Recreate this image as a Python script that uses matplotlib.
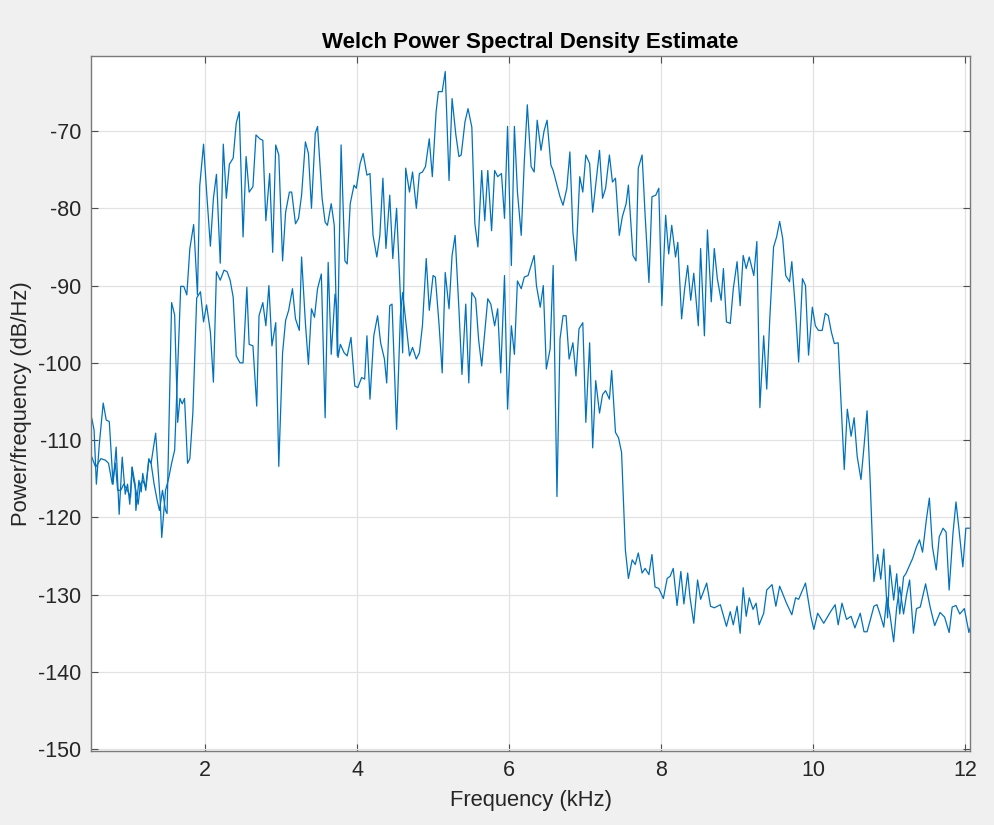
import matplotlib
matplotlib.use("Agg")
import matplotlib.pyplot as plt

# upper trace (frequency in kHz, PSD in dB/Hz)
freq_a = [0.51, 0.54, 0.57, 0.61, 0.66, 0.70, 0.74, 0.79, 0.83, 0.87, 0.91, 0.95, 0.98, 1.01, 1.04,
          1.08, 1.09, 1.13, 1.16, 1.18, 1.22, 1.26, 1.29, 1.35, 1.38, 1.41, 1.43, 1.48, 1.52, 1.56,
          1.60, 1.68, 1.72, 1.76, 1.80, 1.85, 1.87, 1.90, 1.93, 1.98, 2.02, 2.07, 2.11, 2.15, 2.20,
          2.24, 2.28, 2.32, 2.37, 2.41, 2.45, 2.50, 2.54, 2.58, 2.63, 2.67, 2.72, 2.76, 2.80, 2.85,
          2.89, 2.93, 2.97, 3.02, 3.06, 3.11, 3.14, 3.19, 3.23, 3.27, 3.32, 3.36, 3.40, 3.45, 3.48,
          3.54, 3.58, 3.61, 3.66, 3.70, 3.74, 3.79, 3.84, 3.87, 3.91, 3.96, 3.99, 4.04, 4.08, 4.13,
          4.17, 4.21, 4.26, 4.30, 4.34, 4.38, 4.43, 4.47, 4.52, 4.56, 4.60, 4.64, 4.69, 4.73, 4.78,
          4.82, 4.86, 4.90, 4.95, 4.99, 5.04, 5.07, 5.12, 5.16, 5.21, 5.25, 5.30, 5.34, 5.37, 5.42,
          5.46, 5.51, 5.55, 5.59, 5.64, 5.68, 5.72, 5.77, 5.81, 5.85, 5.90, 5.94, 5.98, 6.03, 6.07,
          6.11, 6.16, 6.20, 6.24, 6.29, 6.33, 6.37, 6.42, 6.46, 6.50, 6.55, 6.58, 6.63, 6.67, 6.71,
          6.76, 6.80, 6.84, 6.88, 6.93, 6.97, 7.01, 7.06, 7.10, 7.15, 7.19, 7.23, 7.27, 7.32, 7.36,
          7.40, 7.45, 7.49, 7.54, 7.57, 7.63, 7.67, 7.70, 7.75, 7.79, 7.84, 7.88, 7.93, 7.97, 8.01,
          8.06, 8.10, 8.14, 8.19, 8.22, 8.27, 8.31, 8.35, 8.39, 8.43, 8.49, 8.52, 8.57, 8.61, 8.66,
          8.70, 8.74, 8.79, 8.82, 8.86, 8.91, 8.95, 9.00, 9.04, 9.08, 9.12, 9.16, 9.22, 9.26, 9.30,
          9.35, 9.39, 9.43, 9.48, 9.52, 9.56, 9.60, 9.64, 9.69, 9.72, 9.77, 9.81, 9.86, 9.90, 9.94,
          9.99, 10.03, 10.07, 10.12, 10.16, 10.20, 10.24, 10.28, 10.33, 10.41, 10.45, 10.50, 10.54,
          10.58, 10.63, 10.67, 10.71, 10.75, 10.80, 10.85, 10.89, 10.93, 10.98, 11.01, 11.06, 11.10,
          11.14, 11.19, 11.22, 11.27, 11.31, 11.36, 11.40, 11.44, 11.49, 11.53, 11.57, 11.62, 11.66,
          11.71, 11.75, 11.79, 11.84, 11.88, 11.92, 11.97, 12.01, 12.06]
psd_a = [-107.2, -108.7, -115.7, -110.4, -105.2, -107.4, -107.6, -115.7, -110.9, -119.6, -112.2, -117.0,
         -115.7, -118.3, -113.5, -115.7, -119.1, -115.2, -116.7, -114.3, -116.5, -112.4, -113.0, -109.1,
         -113.5, -117.8, -122.6, -116.5, -115.0, -113.0, -111.3, -90.1, -90.1, -91.2, -85.2, -82.1,
         -85.6, -91.2, -77.1, -71.7, -77.8, -84.9, -78.7, -75.6, -87.1, -71.7, -78.7, -74.3, -73.5,
         -69.0, -67.5, -83.7, -73.3, -77.9, -77.2, -70.5, -71.0, -71.2, -81.6, -75.5, -85.7, -71.8,
         -73.1, -86.8, -80.5, -77.9, -77.9, -82.0, -81.3, -78.3, -71.4, -72.9, -80.0, -70.3, -69.4,
         -78.7, -81.8, -82.2, -79.4, -82.2, -99.1, -71.8, -86.8, -87.2, -79.4, -77.0, -77.4, -74.2,
         -72.9, -75.7, -75.5, -83.5, -86.3, -83.5, -76.1, -85.2, -78.3, -86.5, -80.0, -89.0, -98.7,
         -74.8, -77.9, -75.3, -80.0, -75.5, -75.3, -74.6, -71.0, -75.9, -67.5, -64.9, -64.9, -62.3,
         -76.4, -65.8, -70.5, -73.3, -73.1, -68.8, -67.1, -69.5, -82.0, -85.0, -75.1, -81.6, -75.1,
         -82.9, -75.1, -75.9, -75.5, -81.3, -69.4, -87.4, -69.4, -77.9, -83.5, -74.0, -66.6, -74.6,
         -75.3, -68.6, -72.5, -70.0, -68.6, -74.4, -75.1, -77.0, -78.5, -79.6, -77.4, -72.7, -83.1,
         -86.8, -75.9, -77.9, -73.1, -74.2, -80.5, -76.0, -72.5, -78.7, -77.4, -73.1, -76.6, -76.1,
         -83.5, -81.1, -79.4, -77.0, -86.1, -86.8, -74.8, -73.1, -80.9, -89.6, -78.5, -78.3, -77.4,
         -92.6, -80.9, -85.9, -82.2, -86.3, -84.4, -94.3, -90.4, -87.4, -91.9, -88.4, -95.2, -85.2,
         -96.5, -82.8, -92.1, -85.2, -89.1, -91.9, -87.8, -94.7, -94.9, -90.4, -86.9, -92.6, -86.1,
         -87.8, -86.3, -88.7, -84.3, -105.8, -96.5, -103.4, -94.3, -85.0, -83.7, -81.7, -83.9, -88.7,
         -89.5, -86.9, -93.4, -99.9, -89.1, -90.0, -99.0, -92.8, -95.2, -95.8, -95.8, -93.6, -93.9,
         -96.0, -97.5, -97.4, -113.8, -106.0, -109.5, -107.1, -112.1, -115.1, -110.8, -106.2, -115.1,
         -128.3, -124.8, -128.0, -124.1, -133.0, -126.2, -130.7, -127.3, -132.5, -127.7, -127.3,
         -126.2, -125.3, -123.8, -122.9, -124.5, -120.3, -117.5, -123.8, -126.8, -122.5, -121.4,
         -121.9, -129.4, -122.1, -118.0, -121.6, -126.4, -121.4, -121.4]

# lower trace
freq_b = [0.51, 0.56, 0.63, 0.69, 0.73, 0.78, 0.82, 0.85, 0.89, 0.93, 0.98, 1.02, 1.04, 1.06, 1.09,
          1.12, 1.15, 1.18, 1.22, 1.26, 1.29, 1.33, 1.37, 1.40, 1.44, 1.48, 1.50, 1.56, 1.60, 1.64,
          1.67, 1.70, 1.73, 1.77, 1.80, 1.84, 1.89, 1.94, 1.98, 2.02, 2.07, 2.11, 2.15, 2.20, 2.25,
          2.29, 2.33, 2.37, 2.41, 2.46, 2.50, 2.55, 2.58, 2.63, 2.68, 2.71, 2.76, 2.80, 2.84, 2.88,
          2.93, 2.97, 3.02, 3.06, 3.10, 3.15, 3.19, 3.24, 3.27, 3.32, 3.36, 3.40, 3.44, 3.48, 3.53,
          3.58, 3.62, 3.66, 3.71, 3.73, 3.75, 3.78, 3.83, 3.87, 3.92, 3.97, 4.01, 4.06, 4.10, 4.13,
          4.17, 4.22, 4.27, 4.31, 4.36, 4.39, 4.43, 4.46, 4.52, 4.57, 4.60, 4.69, 4.73, 4.78, 4.82,
          4.86, 4.91, 4.95, 5.00, 5.03, 5.08, 5.12, 5.16, 5.21, 5.25, 5.29, 5.34, 5.38, 5.43, 5.47,
          5.51, 5.56, 5.60, 5.64, 5.72, 5.76, 5.81, 5.85, 5.89, 5.94, 5.98, 6.03, 6.07, 6.11, 6.16,
          6.20, 6.25, 6.29, 6.33, 6.36, 6.41, 6.45, 6.49, 6.54, 6.58, 6.63, 6.67, 6.71, 6.75, 6.79,
          6.84, 6.88, 6.92, 6.97, 7.01, 7.06, 7.10, 7.14, 7.19, 7.23, 7.27, 7.32, 7.35, 7.40, 7.44,
          7.48, 7.53, 7.57, 7.62, 7.66, 7.70, 7.75, 7.79, 7.84, 7.88, 7.92, 7.97, 8.03, 8.08, 8.12,
          8.16, 8.21, 8.26, 8.30, 8.35, 8.38, 8.43, 8.48, 8.52, 8.60, 8.65, 8.70, 8.78, 8.86, 8.91,
          8.95, 9.00, 9.04, 9.08, 9.12, 9.16, 9.21, 9.25, 9.29, 9.35, 9.39, 9.46, 9.51, 9.56, 9.65,
          9.72, 9.77, 9.81, 9.90, 9.97, 10.01, 10.06, 10.14, 10.23, 10.29, 10.33, 10.38, 10.44, 10.50,
          10.55, 10.62, 10.67, 10.71, 10.76, 10.80, 10.84, 10.88, 10.93, 10.97, 11.01, 11.06, 11.10,
          11.14, 11.19, 11.23, 11.27, 11.32, 11.36, 11.41, 11.48, 11.54, 11.60, 11.67, 11.73, 11.79,
          11.83, 11.88, 11.93, 11.99, 12.05, 12.07]
psd_b = [-112.2, -113.5, -112.4, -112.6, -113.0, -115.7, -113.0, -116.5, -116.5, -115.7, -116.5, -117.4,
         -113.5, -115.2, -116.5, -118.3, -115.7, -115.2, -116.1, -112.6, -113.0, -115.7, -117.8, -119.1,
         -116.5, -119.1, -119.5, -92.2, -93.8, -107.7, -104.6, -105.3, -104.6, -113.0, -112.4, -106.4,
         -91.6, -90.8, -94.7, -92.5, -96.0, -102.5, -88.2, -89.3, -88.0, -88.2, -89.3, -91.5, -99.1,
         -100.0, -100.0, -90.2, -97.6, -97.8, -105.6, -93.9, -92.2, -95.2, -90.0, -97.8, -94.8, -113.4,
         -98.7, -94.5, -93.2, -90.4, -94.3, -95.8, -86.3, -94.8, -100.2, -93.0, -94.1, -90.4, -88.5,
         -107.1, -87.0, -98.9, -91.1, -92.6, -99.3, -97.6, -98.7, -99.1, -96.7, -103.0, -103.2, -101.9,
         -102.1, -96.5, -104.7, -96.5, -93.9, -97.4, -99.5, -102.6, -92.6, -92.4, -108.6, -93.9, -90.9,
         -99.1, -98.0, -99.5, -98.7, -95.2, -86.5, -93.2, -88.7, -88.9, -95.2, -101.3, -88.3, -93.0,
         -86.1, -83.5, -93.0, -101.5, -92.4, -102.6, -90.9, -91.7, -97.1, -100.4, -91.7, -92.4, -95.2,
         -93.0, -101.3, -88.7, -106.0, -95.2, -98.9, -89.4, -90.4, -88.9, -88.7, -87.4, -86.1, -90.0,
         -92.8, -90.0, -100.8, -98.2, -87.4, -117.3, -96.9, -93.9, -93.9, -99.5, -97.4, -101.7, -95.6,
         -94.8, -107.7, -97.4, -111.0, -102.3, -106.5, -104.1, -103.6, -104.7, -101.0, -109.0, -109.7,
         -111.6, -124.2, -127.9, -125.5, -126.1, -124.6, -127.2, -126.6, -127.4, -124.8, -129.0, -129.2,
         -130.5, -127.9, -127.6, -126.6, -131.4, -127.0, -131.2, -127.2, -130.3, -133.7, -128.1, -130.6,
         -128.5, -131.5, -131.7, -131.3, -134.1, -132.2, -133.9, -131.5, -135.0, -129.1, -132.8, -130.4,
         -131.9, -131.1, -133.9, -132.4, -129.4, -128.7, -131.5, -128.9, -131.1, -132.6, -130.4, -130.6,
         -128.5, -132.8, -134.5, -132.4, -133.7, -132.2, -131.3, -133.9, -131.1, -133.2, -132.8, -134.3,
         -132.4, -134.8, -134.8, -133.0, -131.5, -131.3, -132.5, -134.2, -130.3, -132.5, -136.1, -131.6,
         -129.0, -132.5, -130.0, -128.1, -135.0, -131.8, -131.6, -128.6, -131.6, -134.0, -132.3, -132.9,
         -134.9, -131.6, -131.4, -132.5, -131.8, -134.9, -134.2]

y_ticks = [-150, -140, -130, -120, -110, -100, -90, -80, -70]
x_ticks = [2, 4, 6, 8, 10, 12]

plt.rcParams['font.family'] = ['Liberation Sans', 'DejaVu Sans']
plt.rcParams['axes.unicode_minus'] = False

fig = plt.figure(figsize=(9.95, 8.25), dpi=100, facecolor='#f0f0f0')
ax = fig.add_axes([0.0915, 0.090, 0.8835, 0.842])

line_color = '#0072bd'
ax.plot(freq_a, psd_a, color=line_color, linewidth=0.9)
ax.plot(freq_b, psd_b, color=line_color, linewidth=0.9)

ax.set_xlim(0.5, 12.066)
ax.set_ylim(-150.2, -60.3)
ax.set_xticks(x_ticks)
ax.set_yticks(y_ticks)

ax.grid(True, color='#e2e2e2', linewidth=0.9)
ax.set_axisbelow(True)
ax.tick_params(direction='in', length=5, width=0.8, colors='#4d4d4d',
               labelcolor='#262626', labelsize=15.5, top=True, right=True, pad=7)
for spine in ax.spines.values():
    spine.set_color('#7a7a7a')
    spine.set_linewidth(1.0)

ax.set_title('Welch Power Spectral Density Estimate', fontsize=16, fontweight='bold',
             color='#000000', pad=6)
ax.set_xlabel('Frequency (kHz)', fontsize=15.8, color='#262626', labelpad=6)
ax.set_ylabel('Power/frequency (dB/Hz)', fontsize=15.8, color='#262626', labelpad=4)

fig.savefig('out.png', dpi=100, facecolor=fig.get_facecolor())
